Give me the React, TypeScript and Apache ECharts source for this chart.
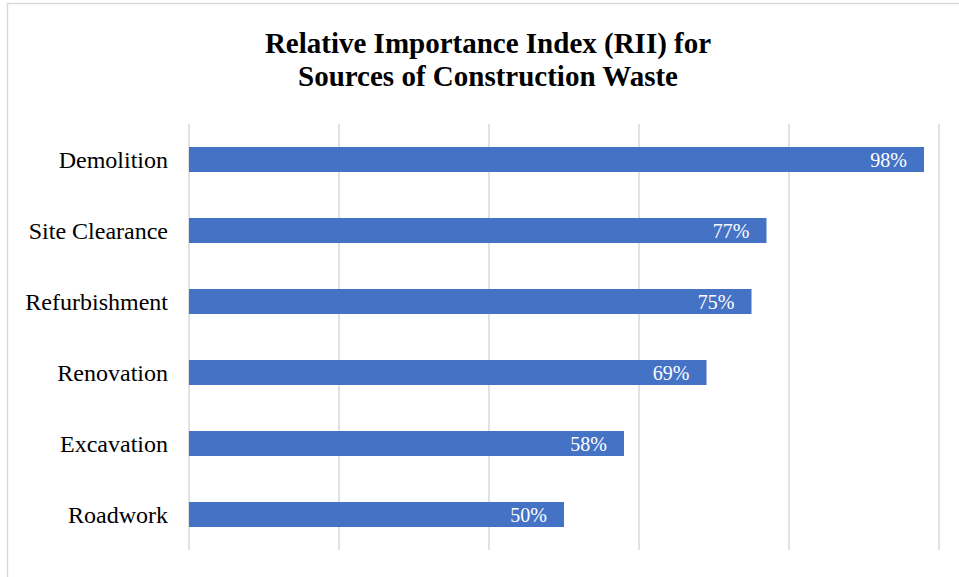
import React, { useEffect, useRef } from "react";
import * as echarts from "echarts";

const categories = ["Roadwork", "Excavation", "Renovation", "Refurbishment", "Site Clearance", "Demolition"];
const values = [0.5, 0.58, 0.69, 0.75, 0.77, 0.98];
const titleLines = ["Relative Importance Index (RII) for", "Sources of Construction Waste"];

export default function App() {
  const ref = useRef<HTMLDivElement>(null);
  useEffect(() => {
    const chart = echarts.init(ref.current!, null, { renderer: "svg" });
    const font = "'Liberation Serif', 'Times New Roman', serif";
    chart.setOption({
      animation: false,
      backgroundColor: "#ffffff",
      title: {
        text: titleLines.join("\n"),
        left: 488,
        top: 26,
        padding: 0,
        textAlign: "center",
        textStyle: { fontFamily: font, fontSize: 29, fontWeight: "bold", color: "#000", lineHeight: 33 },
      },
      graphic: [
        {
          type: "rect",
          shape: { x: 7.5, y: 3.5, width: 1000, height: 700 },
          style: { fill: "none", stroke: "#d9d9d9", lineWidth: 1.5 },
          silent: true,
        },
      ],
      grid: { left: 189, right: 20, top: 124, bottom: 27, containLabel: false },
      xAxis: {
        type: "value",
        min: 0,
        max: 1,
        interval: 0.2,
        axisLabel: { show: false },
        axisLine: { show: false },
        axisTick: { show: false },
        splitLine: { show: true, lineStyle: { color: "#d9d9d9", width: 1.5 } },
      },
      yAxis: {
        type: "category",
        data: categories,
        axisLine: { show: false },
        axisTick: { show: false },
        axisLabel: { fontFamily: font, fontSize: 24, color: "#000", margin: 21 },
      },
      series: [
        {
          type: "bar",
          data: values,
          barCategoryGap: "65%",
          itemStyle: { color: "#4472c4" },
          label: {
            show: true,
            position: "insideRight",
            distance: 17,
            formatter: (p: any) => Math.round(p.value * 100) + "%",
            fontFamily: font,
            fontSize: 20,
            color: "#fff",
          },
        },
      ],
    });
    return () => chart.dispose();
  }, []);
  return <div ref={ref} style={{ position: "fixed", left: 0, top: 0, width: 959, height: 577 }} />;
}
